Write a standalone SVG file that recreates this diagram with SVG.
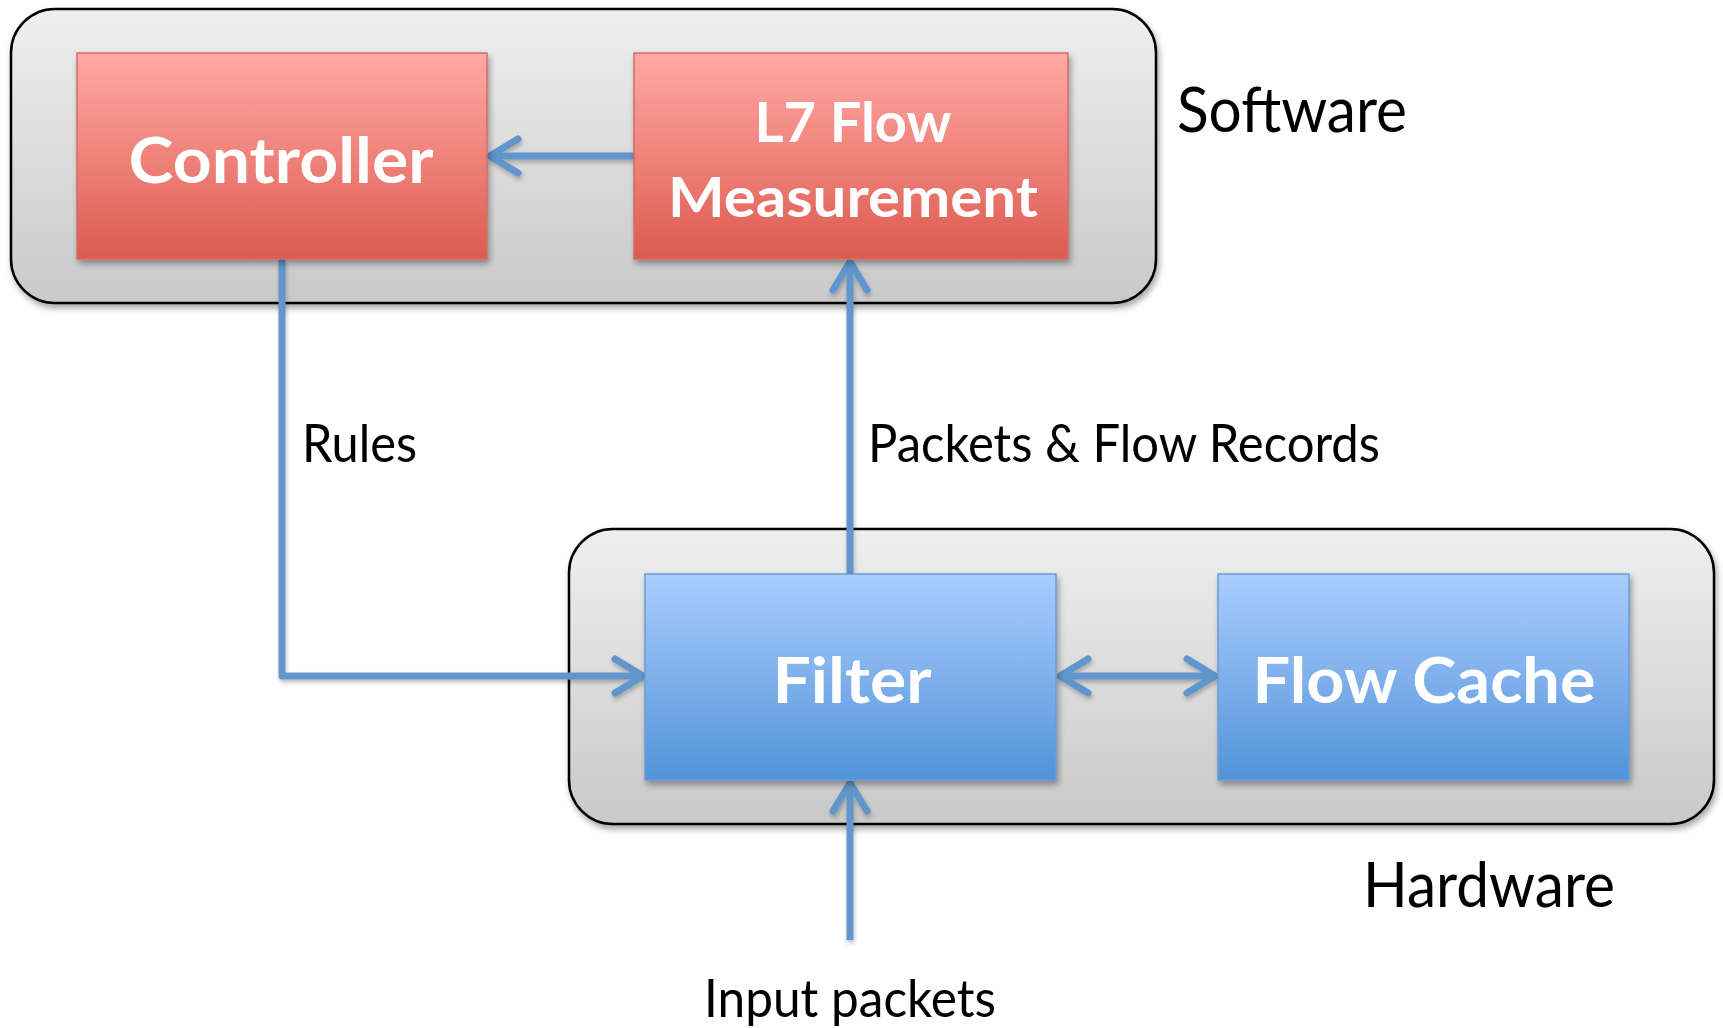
<svg xmlns="http://www.w3.org/2000/svg" width="1723" height="1028" viewBox="0 0 1723 1028">
<style>
.box-text{font-family:Lato,"Open Sans","Liberation Sans",sans-serif;font-weight:bold;font-size:64px;fill:#ffffff;text-anchor:middle}
.box-text-sm{font-family:Lato,"Open Sans","Liberation Sans",sans-serif;font-weight:bold;font-size:56px;fill:#ffffff;text-anchor:middle}
.label{font-family:Lato,"Open Sans","Liberation Sans",sans-serif;font-size:53px;fill:#000000}
.big-label{font-family:Lato,"Open Sans","Liberation Sans",sans-serif;font-size:62px;fill:#000000}
.conn{fill:none;stroke:#6096CB;stroke-width:7;stroke-linejoin:round}
</style>
<defs>
<linearGradient id="gGray" x1="0" y1="0" x2="0" y2="1">
<stop offset="0" stop-color="#EFEFEF"/>
<stop offset="1" stop-color="#C9C9C9"/>
</linearGradient>
<linearGradient id="gRed" x1="0" y1="0" x2="0" y2="1">
<stop offset="0" stop-color="#FFA9A5"/>
<stop offset="0.5" stop-color="#EF837B"/>
<stop offset="1" stop-color="#DC5A4F"/>
</linearGradient>
<linearGradient id="gBlue" x1="0" y1="0" x2="0" y2="1">
<stop offset="0" stop-color="#A9CDFE"/>
<stop offset="0.5" stop-color="#80B0EC"/>
<stop offset="1" stop-color="#5094D8"/>
</linearGradient>
<filter id="shadow" x="-10%" y="-10%" width="120%" height="125%">
<feDropShadow dx="2" dy="4" stdDeviation="3" flood-color="#000000" flood-opacity="0.35"/>
</filter>
<filter id="lshadow" x="-20%" y="-20%" width="140%" height="140%">
<feDropShadow dx="1" dy="3" stdDeviation="2" flood-color="#000000" flood-opacity="0.25"/>
</filter>
<marker id="arr" markerUnits="userSpaceOnUse" markerWidth="44" markerHeight="48" viewBox="-36 -24 44 48" refX="0" refY="0" orient="auto-start-reverse" overflow="visible">
<path d="M -28 -17 L 0 0 L -28 17" fill="none" stroke="#6096CB" stroke-width="7" stroke-linecap="round" stroke-linejoin="round"/>
</marker>
</defs>

<g id="software">
<rect x="11" y="9" width="1145" height="294" rx="44" ry="44" fill="url(#gGray)" stroke="#000000" stroke-width="2.5" filter="url(#shadow)"/>
<text class="big-label" x="1177" y="132" textLength="230" lengthAdjust="spacingAndGlyphs">Software</text>
</g>

<g id="hardware">
<rect x="569" y="529" width="1145" height="295" rx="44" ry="44" fill="url(#gGray)" stroke="#000000" stroke-width="2.5" filter="url(#shadow)"/>
<text class="big-label" x="1363" y="907" textLength="252" lengthAdjust="spacingAndGlyphs">Hardware</text>
</g>

<g id="connectors">
<g filter="url(#lshadow)">
<path class="conn" d="M 634 156 L 490 156" marker-end="url(#arr)"/>
<path class="conn" d="M 282 259 L 282 676 L 643 676" marker-end="url(#arr)"/>
<path class="conn" d="M 850 574 L 850 262" marker-end="url(#arr)"/>
<path class="conn" d="M 1060 676 L 1215 676" marker-start="url(#arr)" marker-end="url(#arr)"/>
<path class="conn" d="M 850 940 L 850 783" marker-end="url(#arr)"/>
</g>
<text class="label" x="302" y="462" textLength="115" lengthAdjust="spacingAndGlyphs">Rules</text>
<text class="label" x="868" y="462" textLength="512" lengthAdjust="spacingAndGlyphs">Packets &amp; Flow Records</text>
<text class="label" x="850" y="1017" text-anchor="middle" textLength="292" lengthAdjust="spacingAndGlyphs">Input packets</text>
</g>

<g id="controller">
<rect x="77" y="53" width="410" height="206" fill="url(#gRed)" stroke="#D46C64" stroke-width="1.5" filter="url(#shadow)"/>
<text class="box-text" x="281" y="183" textLength="305" lengthAdjust="spacingAndGlyphs">Controller</text>
</g>

<g id="l7-flow-measurement">
<rect x="634" y="53" width="434" height="206" fill="url(#gRed)" stroke="#D46C64" stroke-width="1.5" filter="url(#shadow)"/>
<text class="box-text-sm" x="853" y="142" textLength="197" lengthAdjust="spacingAndGlyphs">L7 Flow</text>
<text class="box-text-sm" x="853" y="217" textLength="370" lengthAdjust="spacingAndGlyphs">Measurement</text>
</g>

<g id="filter">
<rect x="645" y="574" width="411" height="206" fill="url(#gBlue)" stroke="#6A9DD6" stroke-width="1.5" filter="url(#shadow)"/>
<text class="box-text" x="852" y="703" textLength="159" lengthAdjust="spacingAndGlyphs">Filter</text>
</g>

<g id="flow-cache">
<rect x="1218" y="574" width="411" height="206" fill="url(#gBlue)" stroke="#6A9DD6" stroke-width="1.5" filter="url(#shadow)"/>
<text class="box-text" x="1424" y="703" textLength="343" lengthAdjust="spacingAndGlyphs">Flow Cache</text>
</g>
</svg>
